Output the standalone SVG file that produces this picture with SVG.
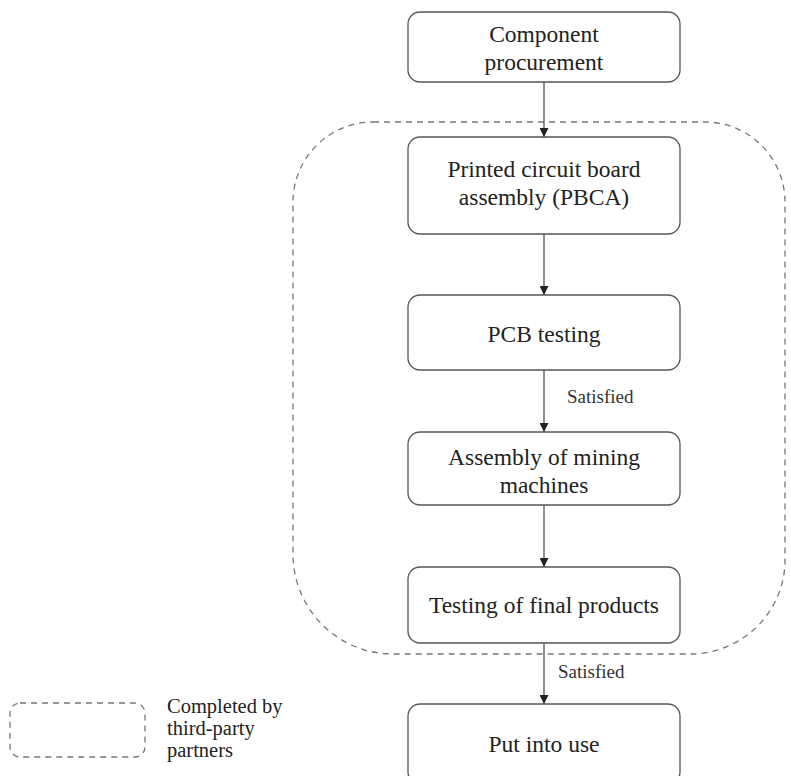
<svg xmlns="http://www.w3.org/2000/svg" width="791" height="776" viewBox="0 0 791 776">
<defs>
<style>
.box{fill:#fff;stroke:#555;stroke-width:1.3}
.t{font-family:"Liberation Serif","Times New Roman",serif;font-size:23.5px;fill:#222;text-anchor:middle}
.s{font-family:"Liberation Serif","Times New Roman",serif;font-size:19px;fill:#333}
.l{font-family:"Liberation Serif","Times New Roman",serif;font-size:20.5px;fill:#222}
.dash{fill:none;stroke:#777;stroke-width:1.3;stroke-dasharray:6,5}
.c{stroke:#444;stroke-width:1.2;fill:none;marker-end:url(#ah)}
</style>
<marker id="ah" viewBox="0 0 10 10" refX="10" refY="5" markerWidth="9" markerHeight="9" markerUnits="userSpaceOnUse" orient="auto">
<path d="M0,0 L10,5 L0,10 z" fill="#222"/>
</marker>
</defs>
<rect width="791" height="776" fill="#fff"/>
<g id="region">
<path class="dash" d="M373,122 H705 A80,80 0 0 1 785,202 V560 A95,94 0 0 1 690,654 H393 A100,100 0 0 1 293,554 V202 A80,80 0 0 1 373,122 Z"/>
</g>
<g id="connectors">
<line class="c" x1="544" y1="82" x2="544" y2="137"/>
<line class="c" x1="544" y1="234" x2="544" y2="295"/>
<line class="c" x1="544" y1="370" x2="544" y2="432"/>
<line class="c" x1="544" y1="505" x2="544" y2="567"/>
<line class="c" x1="544" y1="643" x2="544" y2="704"/>
<text class="s" x="567" y="403">Satisfied</text>
<text class="s" x="558" y="678">Satisfied</text>
</g>
<g id="n1"><rect class="box" x="408" y="12" width="272" height="70" rx="12"/>
<text class="t" x="544" y="42">Component</text><text class="t" x="544" y="70">procurement</text></g>
<g id="n2"><rect class="box" x="408" y="137" width="272" height="97" rx="12"/>
<text class="t" x="544" y="177">Printed circuit board</text><text class="t" x="544" y="205">assembly (PBCA)</text></g>
<g id="n3"><rect class="box" x="408" y="295" width="272" height="75" rx="12"/>
<text class="t" x="544" y="342">PCB testing</text></g>
<g id="n4"><rect class="box" x="408" y="432" width="272" height="73" rx="12"/>
<text class="t" x="544" y="465">Assembly of mining</text><text class="t" x="544" y="493">machines</text></g>
<g id="n5"><rect class="box" x="408" y="567" width="272" height="76" rx="12"/>
<text class="t" x="544" y="613">Testing of final products</text></g>
<g id="n6"><rect class="box" x="408" y="704" width="272" height="80" rx="12"/>
<text class="t" x="544" y="752">Put into use</text></g>
<g id="legend">
<rect class="dash" x="10" y="703" width="135" height="54" rx="10"/>
<text class="l" x="167" y="713">Completed by</text>
<text class="l" x="167" y="735">third-party</text>
<text class="l" x="167" y="757">partners</text>
</g>
</svg>
